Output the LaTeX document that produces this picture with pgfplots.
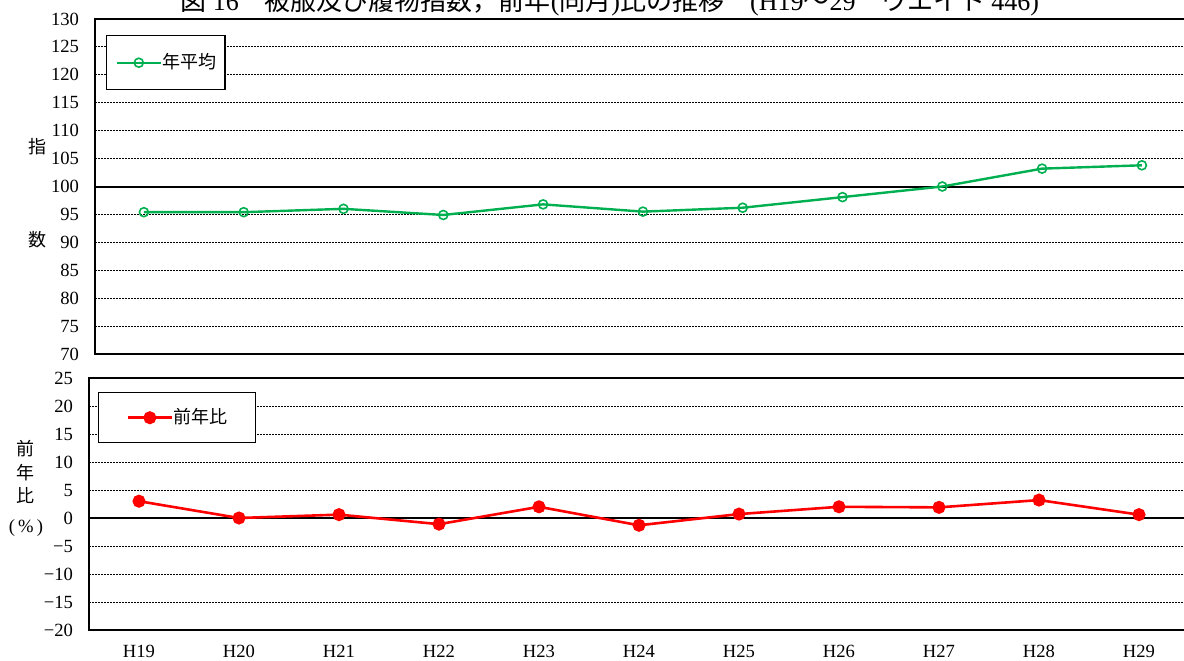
\documentclass[border=0pt]{standalone}
\usepackage{fontspec}
\setmainfont{Liberation Serif}
\newfontfamily\cjk{Noto Sans CJK JP}
\usepackage{pgfplots}
\pgfplotsset{compat=1.18}
\definecolor{exgreen}{RGB}{0,176,80}
\pgfplotsset{mystyle/.style={
  scale only axis, anchor=south west,
  axis line style={line width=1.1pt},
  major tick length=0pt,
  ymajorgrids,
  major grid style={black, line width=0.5pt, dash pattern=on 0.8pt off 0.7pt},
  tick label style={font=\fontsize{9.3}{10}\selectfont},
  yticklabel style={xshift=-4.5pt},
  legend image code/.code={\draw[mark repeat=2,mark phase=2] plot coordinates {(0pt,0pt)(11pt,0pt)(22pt,0pt)};},
}}
\begin{document}
\begin{tikzpicture}
\useasboundingbox (0pt,0pt) rectangle (592pt,330pt);
\begin{axis}[mystyle, at={(47.5pt,153pt)}, width=547.5pt, height=167.5pt,
  xmin=-0.49, xmax=10.482, ymin=70, ymax=130,
  ytick={70,75,80,85,90,95,100,105,110,115,120,125,130},
  yticklabels={70,75,80,85,90,95,100,105,110,115,120,125,130},
  xtick=\empty,
  extra y ticks={100}, extra y tick labels={},
  extra y tick style={grid=major, major grid style={solid, black, line width=1pt}},
  legend style={at={(0.01005,0.9522)}, anchor=north west, draw=black, line width=0.6pt,
    inner xsep=4.5pt, inner ysep=9pt, font=\cjk\fontsize{9}{10}\selectfont,
    nodes={inner sep=0pt}, /tikz/every even column/.append style={column sep=2.5pt}},
]
\addplot[exgreen, line width=1.2pt, mark=o, mark size=2.25pt, mark options={line width=0.8pt, fill=white, solid}]
  coordinates {(0,95.4)(1,95.4)(2,96.0)(3,94.9)(4,96.8)(5,95.5)(6,96.2)(7,98.1)(8,100.0)(9,103.2)(10,103.8)};
\addlegendentry{年平均}
\end{axis}
\begin{axis}[mystyle, at={(44.5pt,15pt)}, width=550.5pt, height=126pt,
  xmin=-0.5, xmax=10.51, ymin=-20, ymax=25,
  ytick={-20,-15,-10,-5,0,5,10,15,20,25},
  yticklabels={−20,−15,−10,−5,0,5,10,15,20,25},
  xtick={0,1,2,3,4,5,6,7,8,9,10},
  xticklabels={H19,H20,H21,H22,H23,H24,H25,H26,H27,H28,H29},
  xticklabel style={anchor=base, yshift=-13.5pt},
  extra y ticks={0}, extra y tick labels={},
  extra y tick style={grid=major, major grid style={solid, black, line width=1pt}},
  legend style={at={(0.00817,0.9444)}, anchor=north west, draw=black, line width=0.6pt,
    inner xsep=14pt, inner ysep=8pt, font=\cjk\fontsize{9}{10}\selectfont,
    nodes={inner sep=0pt}, /tikz/every even column/.append style={column sep=2pt}},
]
\addplot[red, line width=1.3pt, mark=*, mark size=2.6pt, mark options={solid}]
  coordinates {(0,3.0)(1,0.0)(2,0.6)(3,-1.1)(4,2.0)(5,-1.3)(6,0.7)(7,2.0)(8,1.9)(9,3.2)(10,0.6)};
\addlegendentry{前年比}
\end{axis}
\begin{scope}[every node/.style={font=\cjk\fontsize{9}{10}\selectfont, inner sep=0pt}]
\node at (18.5pt,256.5pt) {指};
\node at (18.5pt,210pt) {数};
\node at (13pt,105.5pt) {前};
\node at (13pt,93.5pt) {年};
\node at (13pt,82pt) {比};
\node[font=\fontsize{9.3}{10}\selectfont] at (13pt,66pt) {(\,\%\,)};
\end{scope}
\node[font=\cjk\fontsize{13}{14}\selectfont, anchor=base, inner sep=0pt] at (305pt,324.5pt)
  {図 {\rmfamily 16}　被服及び履物指数，前年{\rmfamily (}同月{\rmfamily )}比の推移　{\rmfamily (H19}～{\rmfamily 29}　ウエイト {\rmfamily 446)}};
\end{tikzpicture}
\end{document}
